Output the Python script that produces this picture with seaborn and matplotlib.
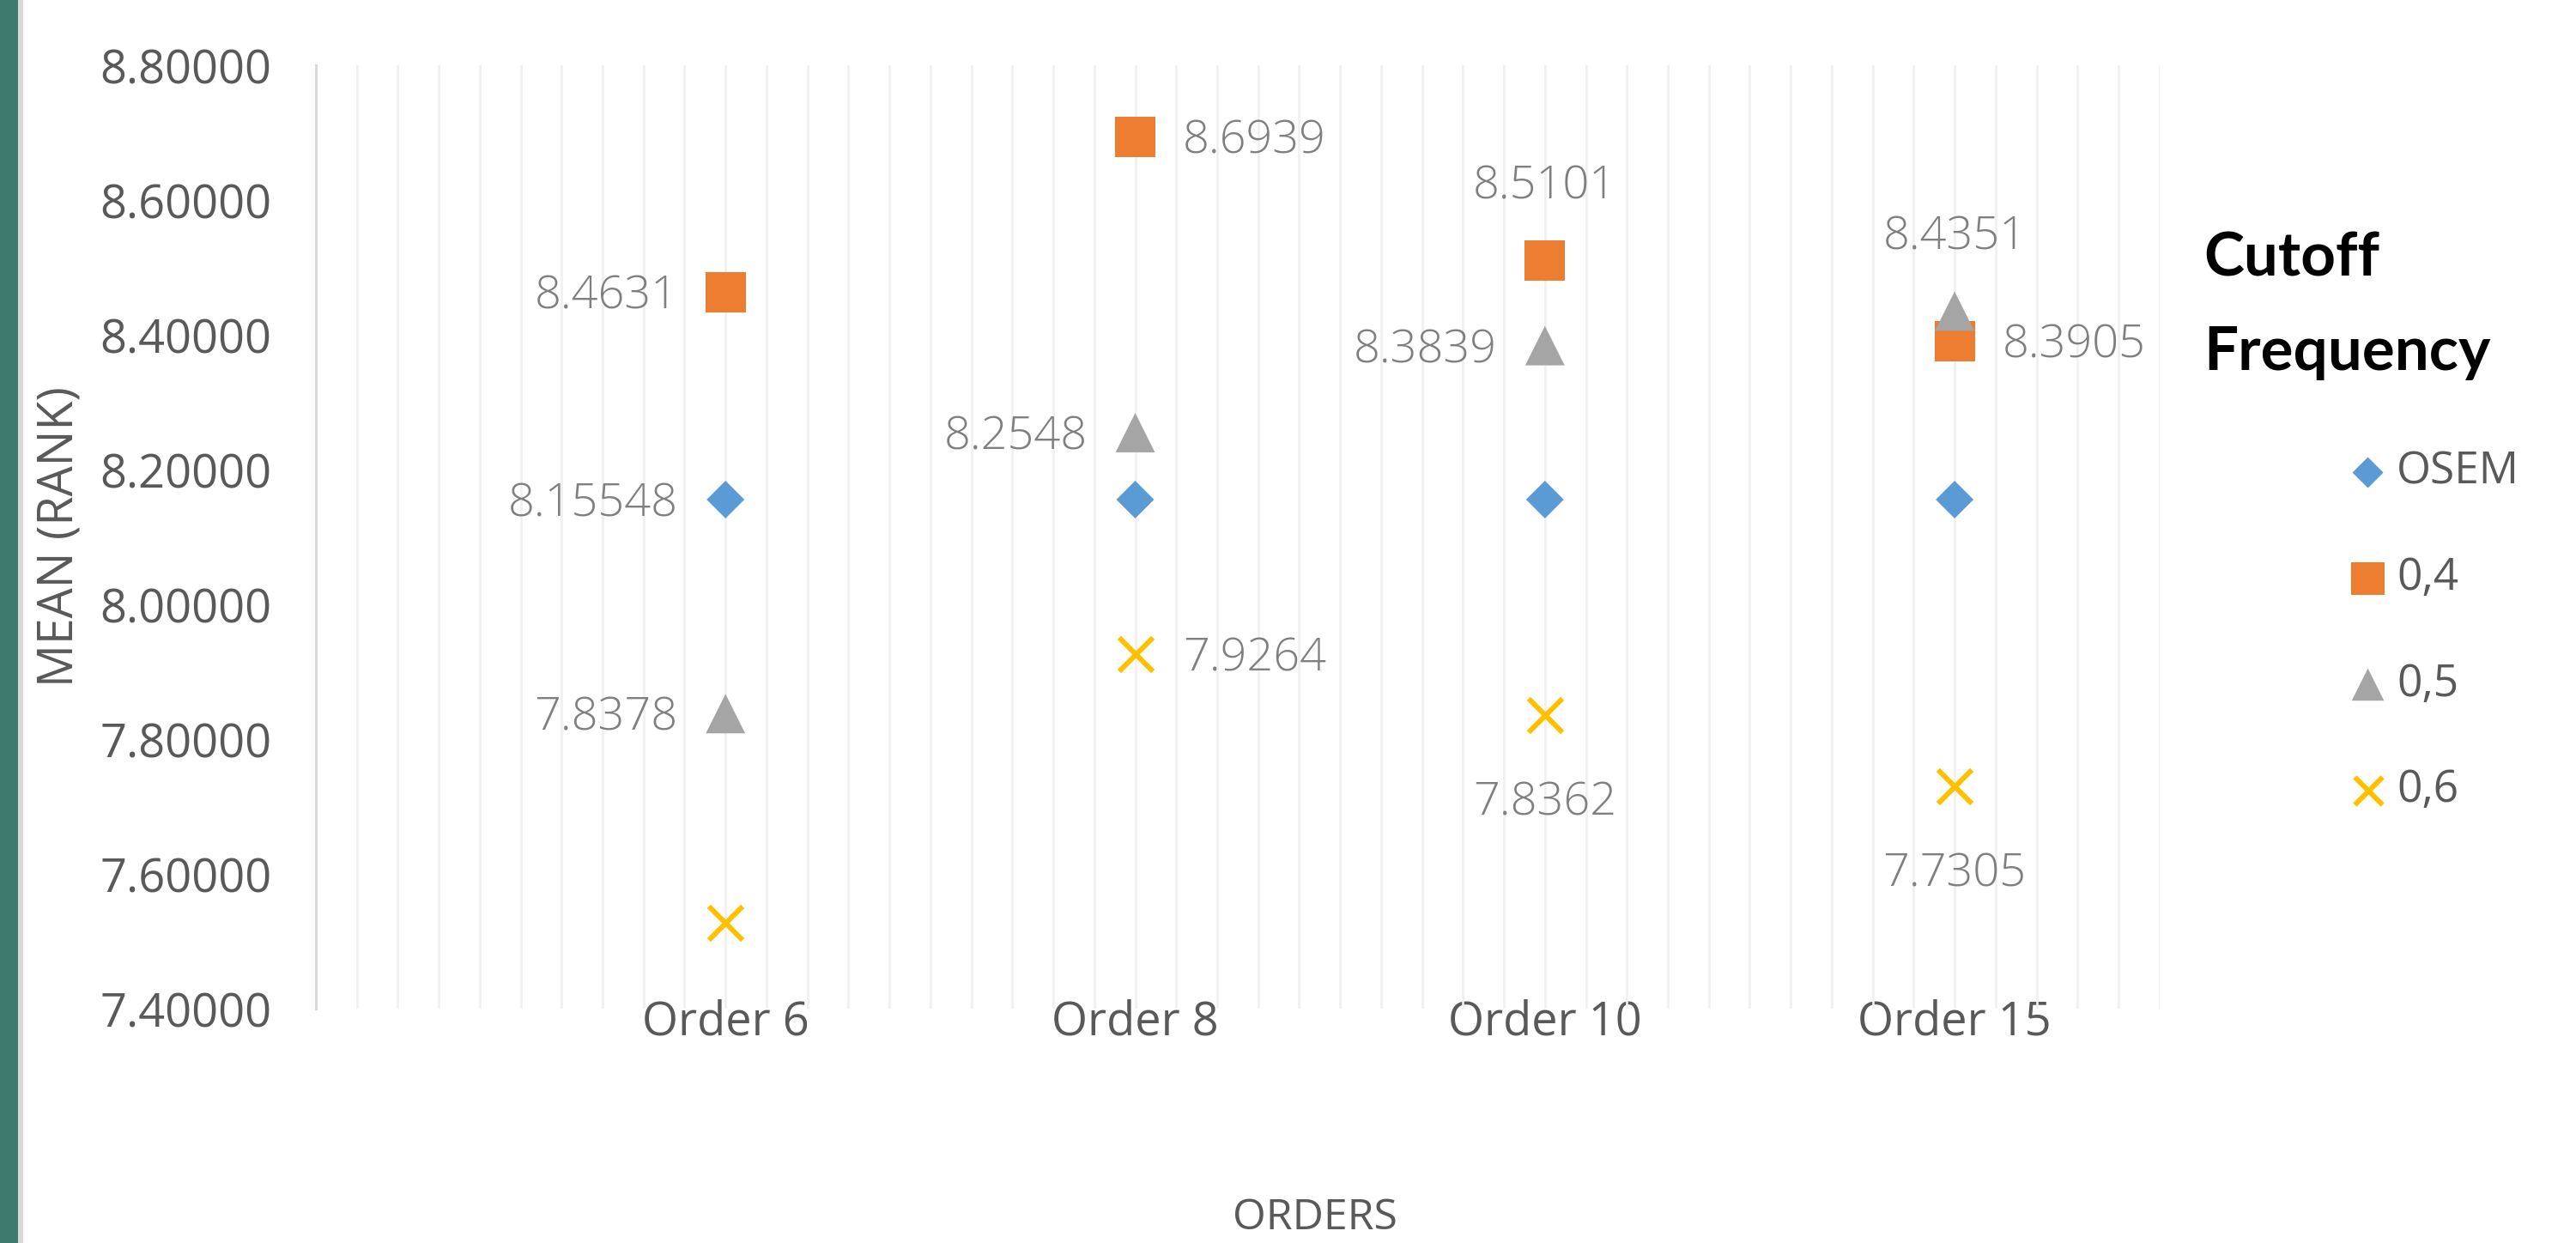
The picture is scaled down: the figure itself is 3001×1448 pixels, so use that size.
import numpy as np
import pandas as pd
import matplotlib
matplotlib.use('Agg')
import matplotlib.pyplot as plt
from matplotlib.ticker import MultipleLocator, FormatStrFormatter
from matplotlib.patches import Rectangle
import seaborn as sns

## data ##

orders = ['Order 6', 'Order 8', 'Order 10', 'Order 15']
series = ['OSEM', '0,4', '0,5', '0,6']
osem = [8.15548, 8.15548, 8.15548, 8.15548]
cut_04 = [8.4631, 8.6939, 8.5101, 8.3905]
cut_05 = [7.8378, 8.2548, 8.3839, 8.4351]
cut_06 = [7.5270, 7.9264, 7.8362, 7.7305]
y_ticks = [7.4, 7.6, 7.8, 8.0, 8.2, 8.4, 8.6, 8.8]

# which points carry a data label, and on which side of the marker
label_side = {
    'OSEM': ['left', None, None, None],
    '0,4': ['left', 'right', 'above', 'right'],
    '0,5': ['left', 'left', 'left', 'above'],
    '0,6': [None, 'right', 'below', 'below'],
}
label_fmt = {'OSEM': '{:.5f}', '0,4': '{:.4f}', '0,5': '{:.4f}', '0,6': '{:.4f}'}

colors = {'OSEM': '#5B9BD5', '0,4': '#ED7D31', '0,5': '#A5A5A5', '0,6': '#FFC000'}
markers = {'OSEM': 'D', '0,4': 's', '0,5': '^', '0,6': 'x'}
sizes = {'OSEM': 500, '0,4': 1140, '0,5': 1090, '0,6': 800}

df = pd.DataFrame({
    'order': orders * len(series),
    'pos': list(range(1, len(orders) + 1)) * len(series),
    'series': np.repeat(series, len(orders)),
    'value': osem + cut_04 + cut_05 + cut_06,
})

## plot ##

sns.set_theme(style='white')
plt.rcParams['font.family'] = ['Open Sans', 'DejaVu Sans']

fig = plt.figure(figsize=(30.01, 14.48), dpi=100)
ax = fig.add_axes([0.1226, 0.1885, 0.7157, 0.7590])

for name in series:
    sub = df[df.series == name]
    if markers[name] == 'x':
        kw = dict(linewidth=4.3)
    else:
        kw = dict(linewidth=0, edgecolor='none')
    sns.scatterplot(data=sub, x='pos', y='value', ax=ax, marker=markers[name],
                    s=sizes[name], color=colors[name], label=name, zorder=3, **kw)

# data labels
offsets = {'left': (-40, -14, 'right'), 'right': (40, -14, 'left'),
           'above': (0, 52, 'center'), 'below': (0, -84, 'center')}
for name in series:
    sub = df[df.series == name]
    for i, (p, v) in enumerate(zip(sub.pos, sub.value)):
        side = label_side[name][i]
        if side is None:
            continue
        dx, dy, ha = offsets[side]
        ax.annotate(label_fmt[name].format(v), (p, v), xytext=(dx, dy),
                    textcoords='offset points', ha=ha, va='baseline',
                    fontsize=39, color='#7F7F7F', fontweight='light')

ax.set_xlim(0, 4.5)
ax.set_ylim(7.4, 8.8)
ax.set_xticks(range(1, len(orders) + 1))
ax.set_xticklabels(orders)
ax.xaxis.set_minor_locator(MultipleLocator(0.1))
ax.set_yticks(y_ticks)
ax.yaxis.set_major_formatter(FormatStrFormatter('%.5f'))

ax.grid(False)
ax.grid(axis='x', which='both', color='#F0F0F0', linewidth=1.9)
ax.set_axisbelow(True)
ax.tick_params(axis='both', which='both', length=0)
ax.tick_params(axis='y', labelsize=39, labelcolor='#595959', pad=37)
ax.tick_params(axis='x', labelsize=39, labelcolor='#595959', pad=-8)
for s in ['top', 'right', 'bottom']:
    ax.spines[s].set_visible(False)
ax.spines['left'].set_color('#D9D9D9')
ax.spines['left'].set_linewidth(2.2)

ax.set_ylabel('MEAN (RANK)', fontsize=40, color='#595959', va='center')
ax.yaxis.set_label_coords(-0.1387, 0.5)
ax.set_xlabel('ORDERS', fontsize=36, color='#595959', va='baseline',
              family=['Liberation Sans Narrow', 'Open Sans'])
ax.xaxis.set_label_coords(0.5419, -0.2338)

# legend
handles, labels = ax.get_legend_handles_labels()
if ax.get_legend() is not None:
    ax.get_legend().remove()
fig.legend(handles, labels, loc='upper left', bbox_to_anchor=(2738 / 3001, 1 - 525 / 1448),
           frameon=False, fontsize=37, labelcolor='#595959', markerscale=0.82,
           handlelength=0.8, handletextpad=0.25, labelspacing=1.41,
           borderpad=0, borderaxespad=0)
fig.text(2567 / 3001, 1 - 268 / 1448, 'Cutoff\nFrequency', fontsize=51, fontweight='bold',
         family=['Lato', 'Open Sans'], color='black', ha='left', va='top', linespacing=1.85)

# strip on the left edge
fig.patches.append(Rectangle((0, 0), 21 / 3001, 1, transform=fig.transFigure,
                             facecolor='#3E7A6E', edgecolor='none'))
fig.patches.append(Rectangle((21 / 3001, 0), 6 / 3001, 1, transform=fig.transFigure,
                             facecolor='#D9D9D9', edgecolor='none'))

fig.savefig('out.png', dpi=100)
